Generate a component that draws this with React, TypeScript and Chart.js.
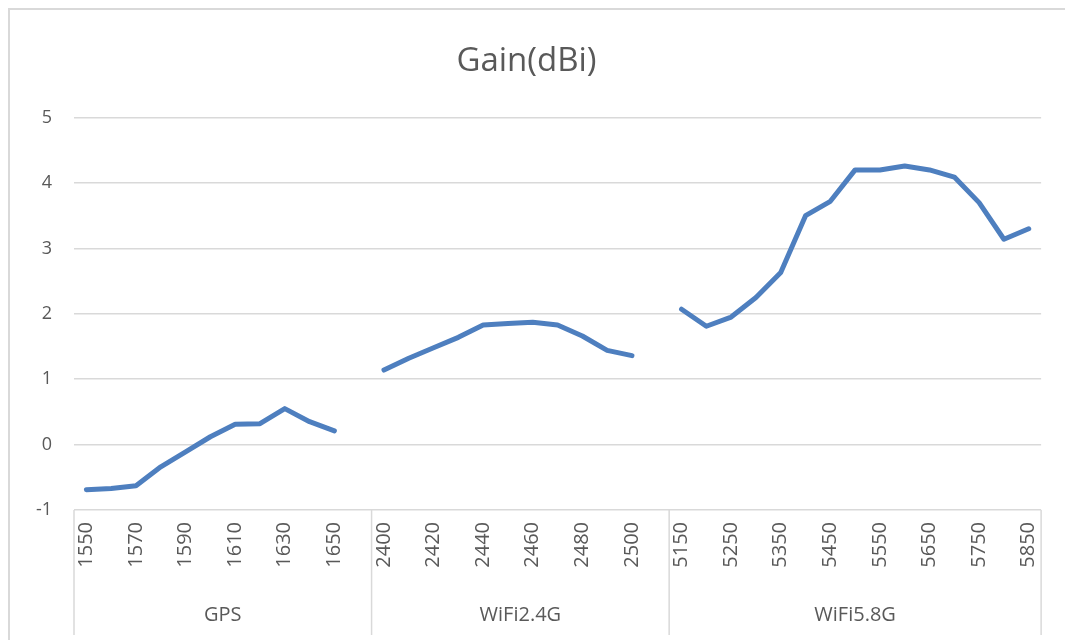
import React, { useEffect, useRef } from "react";
import { Chart, registerables } from "chart.js";

Chart.register(...registerables);

const gpsFreq = ["1550", "1560", "1570", "1580", "1590", "1600", "1610", "1620", "1630", "1640", "1650"];
const gpsGain = [-0.69, -0.67, -0.63, -0.34, -0.11, 0.12, 0.31, 0.32, 0.55, 0.35, 0.21];

const wifi24Freq = ["2400", "2410", "2420", "2430", "2440", "2450", "2460", "2470", "2480", "2490", "2500"];
const wifi24Gain = [1.14, 1.32, 1.48, 1.64, 1.83, 1.85, 1.87, 1.83, 1.66, 1.44, 1.36];

const wifi58Freq = ["5150", "5200", "5250", "5300", "5350", "5400", "5450", "5500", "5550", "5600", "5650", "5700", "5750", "5800", "5850"];
const wifi58Gain = [2.07, 1.81, 1.95, 2.25, 2.63, 3.5, 3.72, 4.2, 4.2, 4.26, 4.2, 4.09, 3.7, 3.14, 3.3];

const groupNames = ["GPS", "WiFi2.4G", "WiFi5.8G"];
const yTicks = [-1, 0, 1, 2, 3, 4, 5];

const FONT = "'Open Sans', 'DejaVu Sans', sans-serif";
const TEXT = "#595959";
const GRID = "#d9d9d9";

export default function App() {
  const ref = useRef<HTMLCanvasElement | null>(null);

  useEffect(() => {
    document.body.style.overflow = "hidden";
    document.body.style.margin = "0";
    const canvas = ref.current;
    if (!canvas) return;

    const groupsFreq = [gpsFreq, wifi24Freq, wifi58Freq];
    const groupsGain = [gpsGain, wifi24Gain, wifi58Gain];
    const labels: string[] = [];
    const values: (number | null)[] = [];
    const spans: { start: number; end: number; name: string }[] = [];
    groupsFreq.forEach((f, g) => {
      const start = labels.length;
      f.forEach((l, i) => {
        labels.push(l);
        values.push(groupsGain[g][i]);
      });
      if (g < groupsFreq.length - 1) {
        labels.push("");
        values.push(null);
      }
      spans.push({ start, end: labels.length - 1, name: groupNames[g] });
    });

    const groupPlugin = {
      id: "groupRow",
      afterDraw(chart: any) {
        const ctx = chart.ctx;
        const xs = chart.scales.x;
        const ca = chart.chartArea;
        const bottom = chart.height - 5;
        const half = (xs.getPixelForValue(1) - xs.getPixelForValue(0)) / 2;
        ctx.save();
        ctx.strokeStyle = GRID;
        ctx.lineWidth = 1.5;
        const bounds: number[] = [ca.left];
        spans.forEach((s, i) => {
          if (i < spans.length - 1) bounds.push(xs.getPixelForValue(s.end) + half);
        });
        bounds.push(ca.right);
        bounds.forEach((b) => {
          ctx.beginPath();
          ctx.moveTo(b, ca.bottom);
          ctx.lineTo(b, bottom);
          ctx.stroke();
        });
        ctx.fillStyle = TEXT;
        ctx.font = `20px ${FONT}`;
        ctx.textAlign = "center";
        ctx.textBaseline = "middle";
        spans.forEach((s, i) => {
          ctx.fillText(s.name, (bounds[i] + bounds[i + 1]) / 2, chart.height - 25);
        });
        ctx.restore();
      },
    };

    const chart = new Chart(canvas, {
      type: "line",
      data: {
        labels,
        datasets: [
          {
            label: "Gain(dBi)",
            data: values,
            borderColor: "#4e7fbf",
            backgroundColor: "#4e7fbf",
            borderWidth: 5,
            pointRadius: 0,
            pointHoverRadius: 0,
            tension: 0,
            spanGaps: false,
            borderJoinStyle: "round",
            borderCapStyle: "round",
          },
        ],
      },
      options: {
        responsive: false,
        animation: false,
        layout: { padding: { left: 0, right: 22, top: 0, bottom: 0 } },
        plugins: {
          legend: { display: false },
          tooltip: { enabled: false },
          title: {
            display: true,
            text: "Gain(dBi)",
            color: TEXT,
            font: { family: FONT, size: 33, weight: "normal", lineHeight: 1.2 },
            padding: { top: 32, bottom: 36 },
          },
        },
        scales: {
          x: {
            type: "category",
            offset: true,
            grid: { display: false, drawTicks: false },
            border: { display: false },
            ticks: {
              autoSkip: false,
              minRotation: 90,
              maxRotation: 90,
              padding: 12,
              color: TEXT,
              font: { family: FONT, size: 20 },
              callback: (_v: any, i: number) => (i % 2 === 0 ? labels[i] : ""),
            },
            afterFit: (s: any) => {
              s.height = 130;
            },
          },
          y: {
            min: -1,
            max: 5,
            afterBuildTicks: (s: any) => {
              s.ticks = yTicks.map((v) => ({ value: v }));
            },
            grid: { color: GRID, lineWidth: 1.5, drawTicks: false },
            border: { display: false },
            ticks: {
              padding: 22,
              color: TEXT,
              font: { family: FONT, size: 18 },
            },
            afterFit: (s: any) => {
              s.width = 64;
            },
          },
        },
      },
      plugins: [groupPlugin],
    });

    return () => chart.destroy();
  }, []);

  return (
    <div
      style={{
        position: "fixed",
        left: 0,
        top: 0,
        width: 1065,
        height: 640,
        overflow: "hidden",
        background: "#fff",
      }}
    >
      <div
        style={{
          position: "absolute",
          left: 8,
          top: 8,
          width: 1057,
          height: 632,
          boxSizing: "border-box",
          borderLeft: `2px solid ${GRID}`,
          borderTop: `2px solid ${GRID}`,
        }}
      >
        <canvas ref={ref} width={1055} height={630} style={{ display: "block" }} />
      </div>
    </div>
  );
}
